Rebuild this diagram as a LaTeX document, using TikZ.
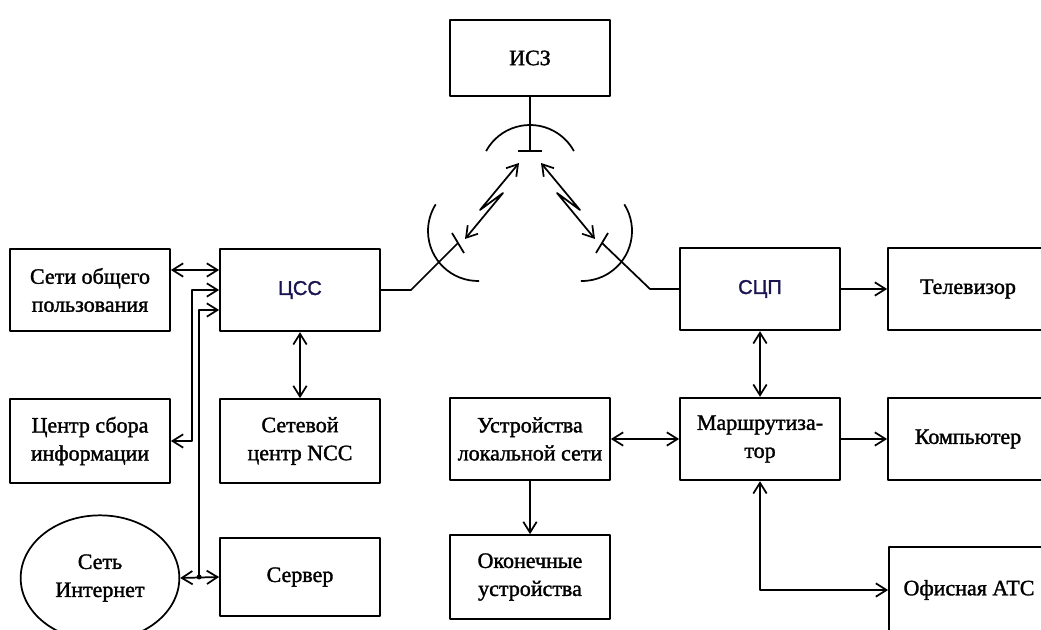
\documentclass[tikz,border=0pt]{standalone}
\usepackage{fontspec}
\setmainfont{Liberation Serif}[BoldFont={Liberation Serif}, BoldFeatures={FakeBold=1.5}]
\newfontfamily\sansfont{Liberation Sans}[BoldFont={Liberation Sans}, BoldFeatures={FakeBold=1.5}]
\definecolor{hubnavy}{RGB}{25,20,80}
\usetikzlibrary{shapes.geometric, arrows.meta, positioning}

\begin{document}
\begin{tikzpicture}[x=0.75pt, y=-0.75pt, line width=1.3pt, line join=round,
  >={Straight Barb[length=8pt,width=10pt]},
  blk/.style={draw, align=center, minimum width=120pt, minimum height=62pt,
    font=\bfseries\fontsize{16.5}{21}\selectfont},
  hub/.style={blk, text=hubnavy, font=\sansfont\bfseries\fontsize{15}{18}\selectfont}]
  \clip (0,0) rectangle (1041,630);

  \node[blk, minimum height=57pt] (isz) at (530,58) {ИСЗ};
  \node[blk] (seti) at (90,290) {Сети общего\\пользования};
  \node[hub] (css) at (300,290) {ЦСС};
  \node[blk, minimum height=63pt] (center) at (90,441) {Центр сбора\\информации};
  \node[blk, minimum height=63pt] (ncc) at (300,441) {Сетевой\\центр NCC};
  \node[blk, minimum height=58pt] (server) at (300,577) {Сервер};
  \node[draw, ellipse, minimum width=119pt, minimum height=94pt, align=center,
    font=\bfseries\fontsize{16.5}{21}\selectfont] (inet) at (100,578) {Сеть\\Интернет};
  \node[hub] (scp) at (760,289) {СЦП};
  \node[blk] (tv) at (968,289) {Телевизор};
  \node[blk] (lan) at (530,439) {Устройства\\локальной сети};
  \node[blk] (router) at (760,439) {Маршрутиза-\\тор};
  \node[blk] (pc) at (968,439) {Компьютер};
  \node[blk, minimum height=63pt] (term) at (530,577) {Оконечные\\устройства};
  \node[blk, minimum height=64.5pt] (ats) at (969,590) {Офисная АТС};

  \draw[<->] ([yshift=15pt]seti.east) -- ([yshift=15pt]css.west);
  \draw[<->] (css.west) -- ++(-27,0) |- (center.east);
  \coordinate (jn) at ([xshift=-15pt]server.west);
  \draw[->] (jn) |- ([yshift=-15pt]css.west);
  \draw[<->] (inet.east) -- (server.west);
  \fill (jn) circle[radius=2.5];
  \draw[<->] (css) -- (ncc);
  \draw[->] (scp) -- (tv);
  \draw[<->] (scp) -- (router);
  \draw[<->] (lan) -- (router);
  \draw[->] (router) -- (pc);
  \draw[->] (lan) -- (term);
  \draw[<->] (router.south) |- (ats.west);

  % antennas
  \draw (isz.south) -- (530,151);
  \draw (518,151) -- (542,151);
  \draw (530,175) ++(-151.4:50) arc[start angle=-151.4, end angle=-28.6, radius=50];
  \draw (478,231) ++(88.8:50) arc[start angle=88.8, end angle=212.2, radius=50];
  \draw (452,233) -- (464,253);
  \draw (css.east) -- (411,290) -- (458,243);
  \draw (582,231) ++(-32.2:50) arc[start angle=-32.2, end angle=91.2, radius=50];
  \draw (608,233) -- (596,253);
  \draw (scp.west) -- (650,289) -- (602,243);

  % radio links
  \draw[<->] (519,163) -- (480,210) -- (503,193) -- (465,239);
  \draw[<->] (541,163) -- (580,210) -- (557,193) -- (595,239);
\end{tikzpicture}
\end{document}
